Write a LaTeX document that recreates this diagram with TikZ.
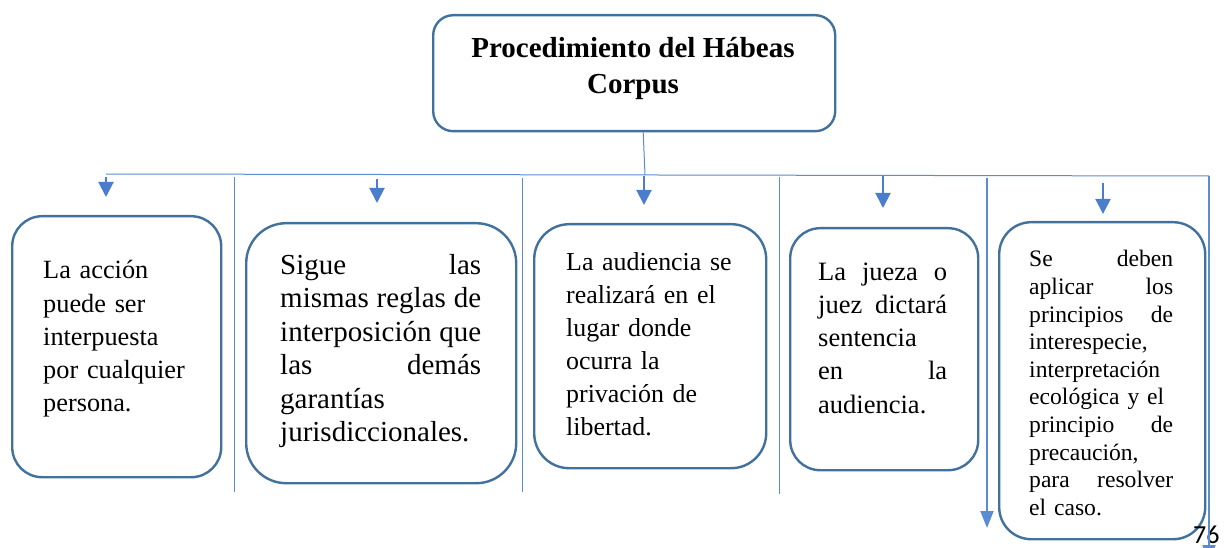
\documentclass[tikz,border=0pt]{standalone}
\usepackage{fontspec}
\setmainfont{Liberation Serif}
\newfontfamily\calibri{Carlito}
\usetikzlibrary{arrows.meta}
\definecolor{boxblue}{RGB}{65,113,156}
\definecolor{linkblue}{RGB}{91,139,208}
\definecolor{arrowblue}{RGB}{74,126,205}
\begin{document}
\begin{tikzpicture}[x=1pt,y=-1pt,
  box/.style={draw=boxblue,line width=2.4pt,anchor=north west,inner sep=0pt,fill=white},
  txt/.style={anchor=base west,inner sep=0pt,align=left,font=\fontsize{26.3}{33.2}\selectfont},
  link/.style={draw=linkblue,line width=1pt},
  downarrow/.style={draw=arrowblue,line width=2pt,-{Triangle[width=15pt,length=15pt]}},
  longarrow/.style={draw=linkblue,line width=2pt,-{Triangle[width=13pt,length=17pt]}}]
\useasboundingbox (0,0) rectangle (1224,548);
\clip (0,0) rectangle (1224,548);

% title
\node[box,minimum width=402pt,minimum height=116pt,rounded corners=20pt] (title) at (432,14) {};
\node[anchor=center,align=center,inner sep=0pt,font=\fontsize{29}{36}\selectfont\bfseries] (titletext) at (633,69) {Procedimiento del Hábeas\\Corpus};

% boxes
\node[box,minimum width=209pt,minimum height=261pt,rounded corners=30pt] (b1) at (11,215) {};
\node[box,minimum width=270pt,minimum height=260pt,rounded corners=40pt] (b2) at (245,222) {};
\node[box,minimum width=232pt,minimum height=244pt,rounded corners=35pt] (b3) at (533,223) {};
\node[box,minimum width=188pt,minimum height=242pt,rounded corners=30pt] (b4) at (789,227) {};
\node[box,minimum width=206pt,minimum height=317pt,rounded corners=32pt] (b5) at (998,221) {};

% texts
\node[txt,text width=160pt] (t1) at (43,279) {La acción\\puede ser\\interpuesta\\por cualquier\\persona.};
\node[txt,text width=201pt,font=\fontsize{29}{33.6}\selectfont] (t2) at (280,274) {Sigue\hfill las\\mismas\hfill reglas\hfill de\\interposición\hfill que\\las\hfill demás\\garantías\\jurisdiccionales.};
\node[txt,text width=175pt,font=\fontsize{25.9}{33.2}\selectfont] (t3) at (566,270) {La audiencia se\\realizará en el\\lugar donde\\ocurra la\\privación de\\libertad.};
\node[txt,text width=129pt,font=\fontsize{26.5}{33.3}\selectfont] (t4) at (818,280) {La\hfill jueza\hfill o\\juez\hfill dictará\\sentencia\\en\hfill la\\audiencia.};
\node[txt,text width=144pt,font=\fontsize{23.6}{27.6}\selectfont] (t5) at (1029,267) {Se\hfill deben\\aplicar\hfill los\\principios\hfill de\\interespecie,\\interpretación\\ecológica y el\\principio\hfill de\\precaución,\\para\hfill resolver\\el caso.};

% page number
\node[anchor=base west,inner sep=0pt,font=\calibri\fontsize{26}{30}\selectfont] (page) at (1193,543) {76};

% connectors
\coordinate (hub) at (645,175);
\coordinate (hl) at (106,174);
\coordinate (hr) at (1209,176);
\draw[link] ([xshift=9pt]title.south) -- (hub);
\draw[link] (hl) -- (hr);

\coordinate (a1s) at (106,177); \coordinate (a1e) at (106,197);
\coordinate (a2s) at (377,179); \coordinate (a2e) at (377,203);
\coordinate (a3s) at (644,176); \coordinate (a3e) at (644,205);
\coordinate (a4s) at (883,176); \coordinate (a4e) at (883,208);
\coordinate (a5s) at (1103,183); \coordinate (a5e) at (1103,214);
\draw[downarrow] (a1s) -- (a1e);
\draw[downarrow] (a2s) -- (a2e);
\draw[downarrow] (a3s) -- (a3e);
\draw[downarrow] (a4s) -- (a4e);
\draw[downarrow] (a5s) -- (a5e);

% separators
\coordinate (s1t) at (234,177); \coordinate (s1b) at (234,492);
\coordinate (s2t) at (522,178); \coordinate (s2b) at (522,492);
\coordinate (s3t) at (779,177); \coordinate (s3b) at (779,494);
\draw[link] (s1t) -- (s1b);
\draw[link] (s2t) -- (s2b);
\draw[link] (s3t) -- (s3b);

\coordinate (s4t) at (987,178); \coordinate (s4b) at (987,528);
\coordinate (s5b) at (1209,562);
\draw[longarrow] (s4t) -- (s4b);
\draw[longarrow] (hr) -- (s5b);
\end{tikzpicture}
\end{document}
